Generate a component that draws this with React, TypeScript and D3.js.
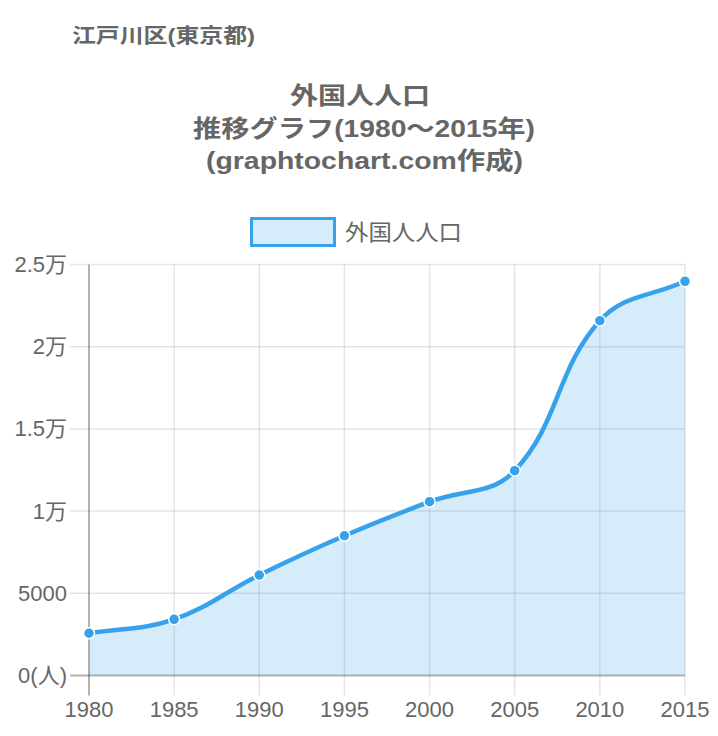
import React from "react";
import * as d3 from "d3";

const years = [1980, 1985, 1990, 1995, 2000, 2005, 2010, 2015];
const values = [2570, 3420, 6110, 8500, 10570, 12460, 21580, 23980];
const yTicks = [0, 5000, 10000, 15000, 20000, 25000];
const yTickLabels = ["0(人)", "5000", "1万", "1.5万", "2万", "2.5万"];
const seriesName = "外国人人口";
const subtitle = "江戸川区(東京都)";
const titleLines = ["外国人人口", "推移グラフ(1980〜2015年)", "(graphtochart.com作成)"];

const W = 718;
const H = 736;
const left = 89;
const right = 685;
const top = 264.5;
const bottom = 675.5;
const FONT = "'Liberation Sans', Arial, 'Noto Sans CJK JP', sans-serif";
const LINE = "rgb(54,162,235)";
const FILL = "rgba(54,162,235,0.2)";
const TEXT = "#666";

function splinePath(pts: [number, number][], t: number, yMin: number, yMax: number) {
  const n = pts.length;
  const cps = pts.map((cur, i) => {
    const prev = i > 0 ? pts[i - 1] : cur;
    const next = i < n - 1 ? pts[i + 1] : cur;
    const d01 = Math.hypot(cur[0] - prev[0], cur[1] - prev[1]);
    const d12 = Math.hypot(next[0] - cur[0], next[1] - cur[1]);
    let s01 = d01 / (d01 + d12);
    let s12 = d12 / (d01 + d12);
    if (isNaN(s01)) s01 = 0;
    if (isNaN(s12)) s12 = 0;
    const fa = t * s01;
    const fb = t * s12;
    const clampY = (v: number) => Math.max(yMin, Math.min(yMax, v));
    return {
      p: [cur[0] - fa * (next[0] - prev[0]), clampY(cur[1] - fa * (next[1] - prev[1]))],
      n: [cur[0] + fb * (next[0] - prev[0]), clampY(cur[1] + fb * (next[1] - prev[1]))],
    };
  });
  let d = `M${pts[0][0]},${pts[0][1]}`;
  for (let i = 1; i < n; i++) {
    const a = cps[i - 1].n;
    const b = cps[i].p;
    d += `C${a[0]},${a[1]},${b[0]},${b[1]},${pts[i][0]},${pts[i][1]}`;
  }
  return d;
}

export default function App() {
  const x = d3.scalePoint<number>().domain(years).range([left, right]);
  const y = d3.scaleLinear().domain([0, 25000]).range([bottom, top]);
  const pts: [number, number][] = years.map((yr, i) => [x(yr) as number, y(values[i])]);
  const line = splinePath(pts, 0.4, top, bottom);
  const area = line + `L${pts[pts.length - 1][0]},${y(0)}L${pts[0][0]},${y(0)}Z`;

  return (
    <svg
      width={W}
      height={H}
      style={{ position: "absolute", left: 0, top: 0, background: "#fff" }}
      fontFamily={FONT}
    >
      <text
        x={72}
        y={36}
        dominantBaseline="central"
        fontSize={20}
        fontWeight="bold"
        fill={TEXT}
        textLength={183}
        lengthAdjust="spacingAndGlyphs"
      >
        {subtitle}
      </text>
      {titleLines.map((t, i) => (
        <text
          key={i}
          x={[360, 364, 364.5][i]}
          y={[95, 128, 160][i]}
          textAnchor="middle"
          dominantBaseline="central"
          fontSize={24}
          fontWeight="bold"
          fill={TEXT}
          textLength={[140, 342, 317][i]}
          lengthAdjust="spacingAndGlyphs"
        >
          {t}
        </text>
      ))}
      <rect x={251.5} y={218.5} width={83} height={27} fill={FILL} stroke={LINE} strokeWidth={3} />
      <text
        x={345}
        y={232}
        dominantBaseline="central"
        fontSize={22}
        fill={TEXT}
        textLength={117}
        lengthAdjust="spacingAndGlyphs"
      >
        {seriesName}
      </text>

      {yTicks.map((v, i) => (
        <line
          key={"h" + i}
          x1={70}
          x2={right}
          y1={y(v)}
          y2={y(v)}
          stroke={v === 0 ? "rgba(0,0,0,0.3)" : "rgba(0,0,0,0.1)"}
          strokeWidth={v === 0 ? 2 : 1.5}
        />
      ))}
      {years.map((yr, i) => (
        <line
          key={"v" + i}
          x1={x(yr)}
          x2={x(yr)}
          y1={top}
          y2={bottom + 20}
          stroke={i === 0 ? "rgba(0,0,0,0.3)" : "rgba(0,0,0,0.1)"}
          strokeWidth={i === 0 ? 2 : 1.5}
        />
      ))}

      <path d={area} fill={FILL} />
      <path d={line} fill="none" stroke={LINE} strokeWidth={4.5} />
      {pts.map((p, i) => (
        <circle key={i} cx={p[0]} cy={p[1]} r={5.5} fill={LINE} stroke="#fff" strokeWidth={1.5} />
      ))}

      {yTicks.map((v, i) => (
        <text
          key={"yl" + i}
          x={67}
          y={y(v)}
          textAnchor="end"
          dominantBaseline="central"
          fontSize={22}
          fill={TEXT}
        >
          {yTickLabels[i]}
        </text>
      ))}
      {years.map((yr, i) => (
        <text key={"xl" + i} x={x(yr)} y={709} textAnchor="middle" dominantBaseline="central" fontSize={22} fill={TEXT}>
          {yr}
        </text>
      ))}
    </svg>
  );
}
